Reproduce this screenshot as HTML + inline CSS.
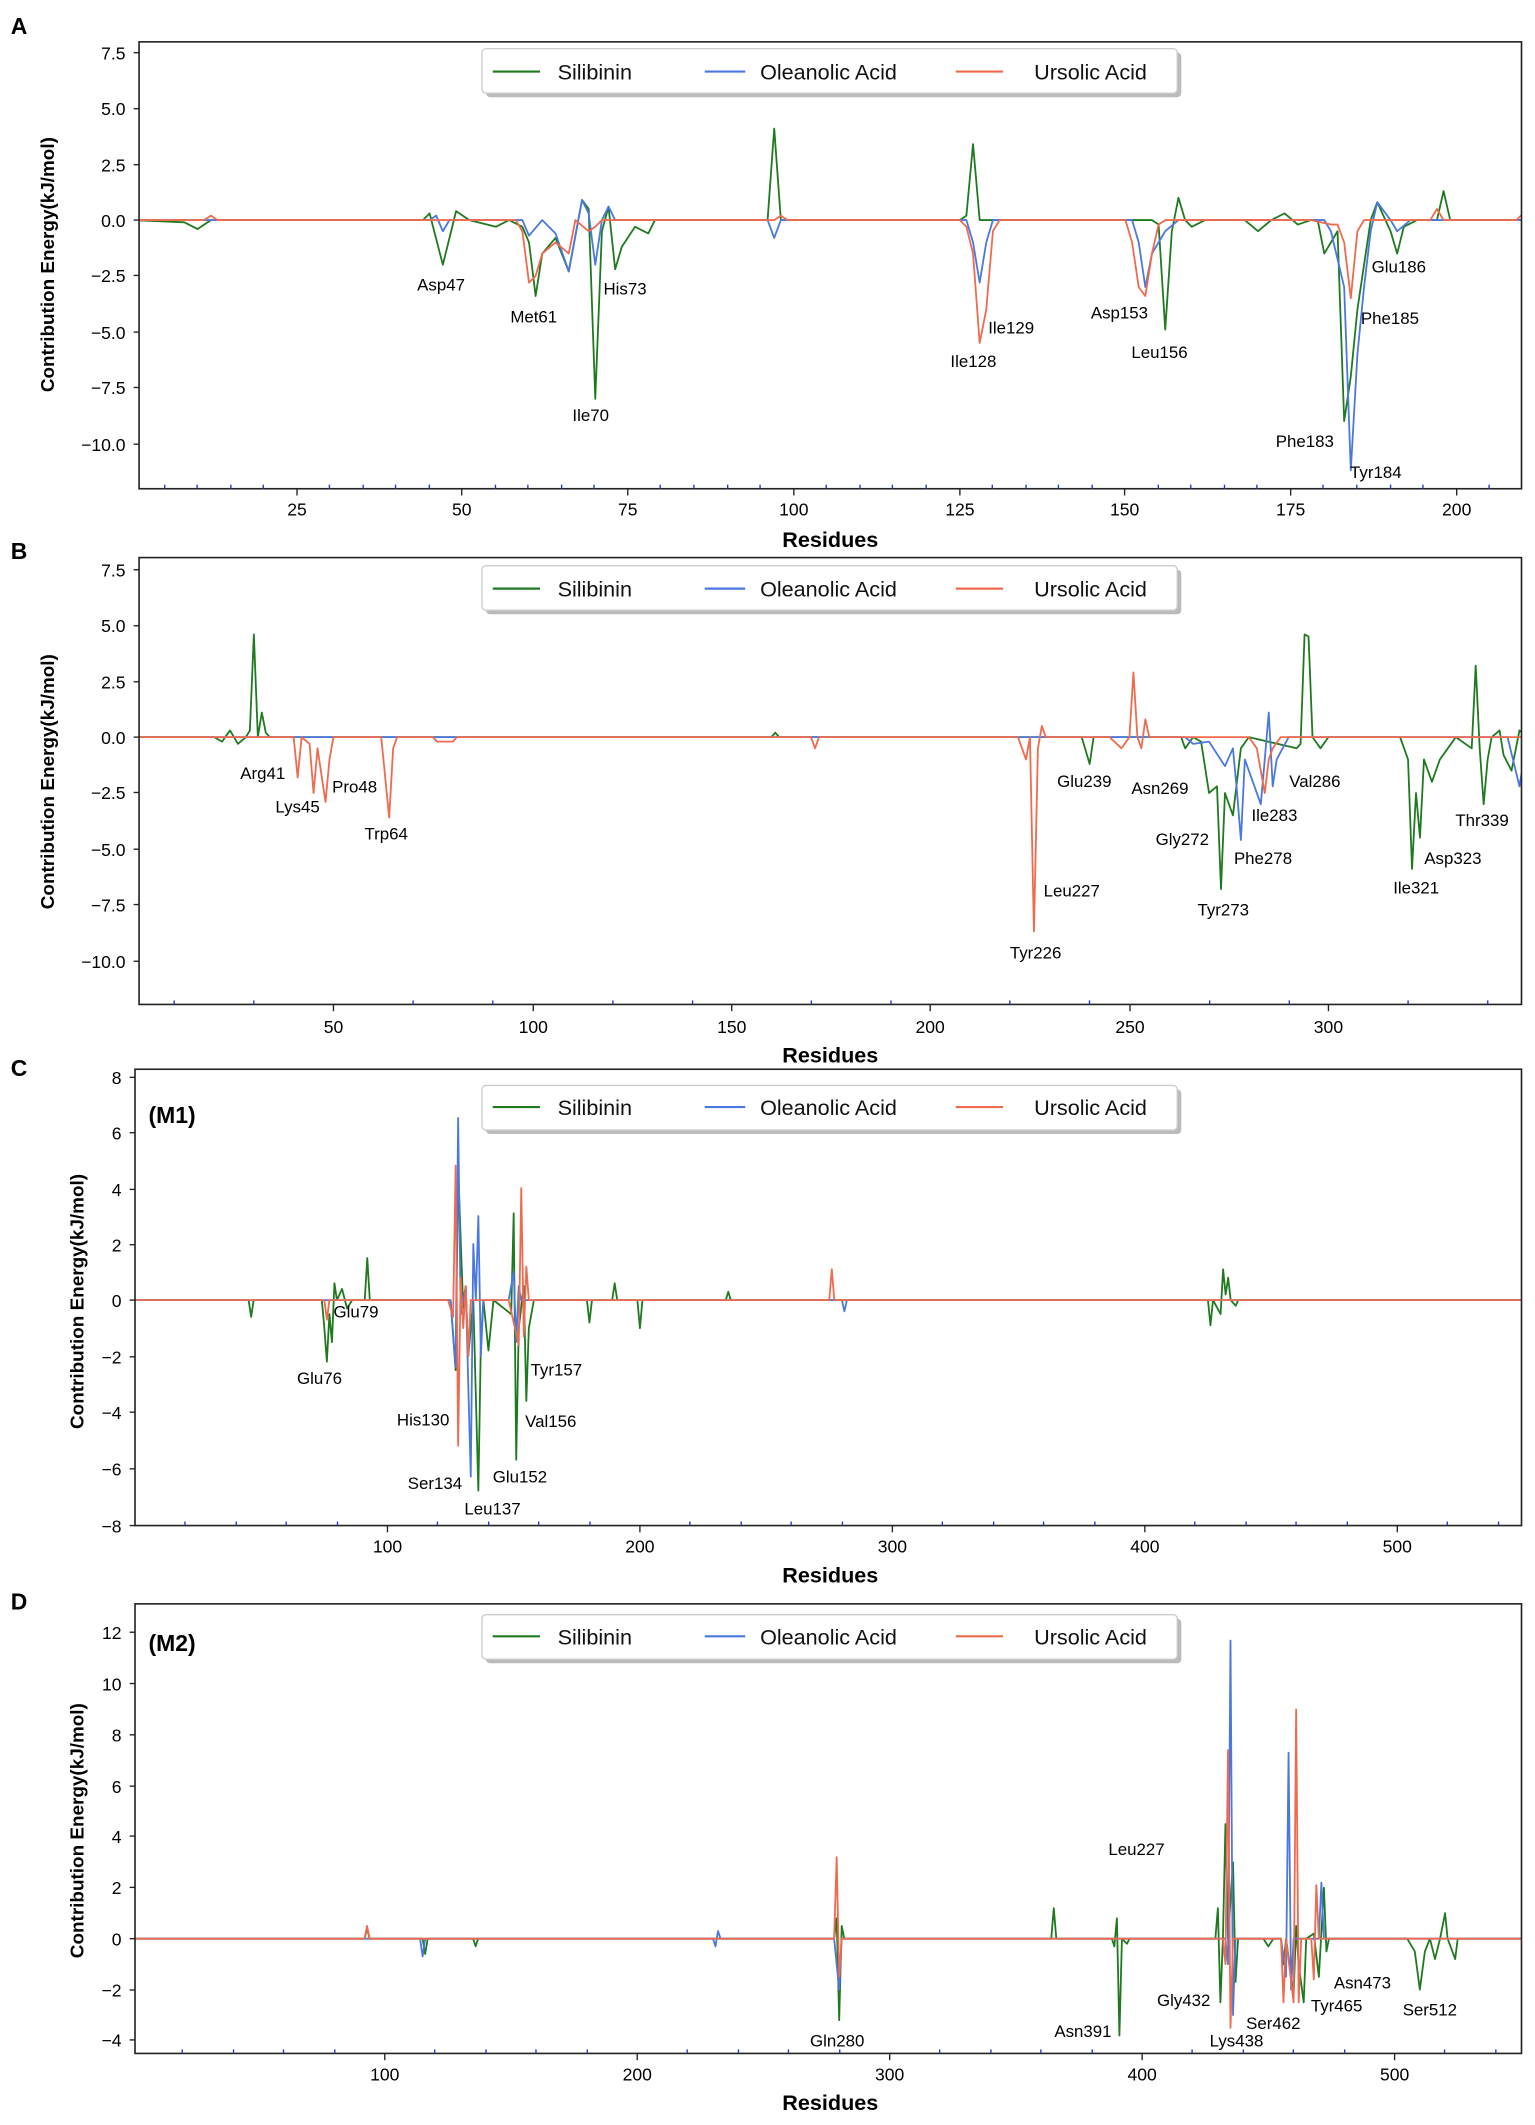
<!DOCTYPE html>
<html><head><meta charset="utf-8"><style>
body{margin:0;background:#fff}
svg{display:block}
text{font-family:"Liberation Sans",sans-serif}
.t{font-size:13px;fill:#000}
.lb{font-size:12.5px;fill:#000}
.ax{font-size:16px;font-weight:bold}
.yl{font-size:14px;font-weight:bold}
.pl{font-size:17px;font-weight:bold}
.lg{font-size:16px;fill:#111}
polyline{fill:none;vector-effect:non-scaling-stroke;stroke-width:1.8;stroke-linejoin:round}
.g{stroke:#1f7a1f}.b{stroke:#4a78e0}.r{stroke:#f06a4e}
.fr{fill:none;stroke:#222;stroke-width:1.2}
</style></head><body>
<svg width="1535" height="2125" viewBox="0 0 1137 1574" xmlns="http://www.w3.org/2000/svg">
<!-- PANEL A -->
<text x="8" y="25" class="pl">A</text>
<g class="t" text-anchor="end">
<text x="93" y="44">7.5</text><text x="93" y="85">5.0</text><text x="93" y="127">2.5</text><text x="93" y="168">0.0</text><text x="93" y="209">−2.5</text><text x="93" y="251">−5.0</text><text x="93" y="292">−7.5</text><text x="93" y="334">−10.0</text>
</g>
<g stroke="#222"><line x1="99" x2="103" y1="39" y2="39"/><line x1="99" x2="103" y1="80.5" y2="80.5"/><line x1="99" x2="103" y1="122" y2="122"/><line x1="99" x2="103" y1="163" y2="163"/><line x1="99" x2="103" y1="204" y2="204"/><line x1="99" x2="103" y1="246" y2="246"/><line x1="99" x2="103" y1="287" y2="287"/><line x1="99" x2="103" y1="329" y2="329"/></g>
<g class="t" text-anchor="middle"><text x="220" y="382">25</text><text x="342" y="382">50</text><text x="465" y="382">75</text><text x="588" y="382">100</text><text x="711" y="382">125</text><text x="833" y="382">150</text><text x="956" y="382">175</text><text x="1079" y="382">200</text></g>
<text x="615" y="405" class="ax" text-anchor="middle">Residues</text>
<text transform="translate(40,196) rotate(-90)" class="yl" text-anchor="middle">Contribution Energy(kJ/mol)</text>
<svg x="103" y="31" width="1024" height="331" overflow="hidden">
<g transform="translate(-5.7,132) scale(4.909,-16.55)">
<polyline class="g" points="0,0 8,-0.1 10,-0.4 12,0 44,0 45,0.3 47,-2 49,0.4 51,0 55,-0.3 57,0 59,-0.3 60,-1 61,-3.4 62,-1.5 64,-0.8 66,-2.3 68,0.9 69,0.5 70,-8 71,-0.5 72,0.6 73,-2.2 74,-1.2 76,-0.3 78,-0.6 79,0 96,0 97,4.1 98,0 125,0 126,0.2 127,3.4 128,0 154,0 155,-0.2 156,-4.9 157,-0.5 158,1 159,0 160,-0.3 162,0 168,0 170,-0.5 172,0 174,0.3 176,-0.2 178,0 179,0 180,-1.5 182,-0.5 183,-9 184,-7 185,-4 186,-2 187,0 188,0.8 190,-0.5 191,-1.5 192,-0.3 194,0 197,0 198,1.3 199,0 212,0"/>
<polyline class="b" points="0,0 45,0 46,0.2 47,-0.5 48,0 59,0 60,-0.7 62,0 64,-0.6 66,-2.3 68,0.9 69,0.3 70,-2 71,0 72,0.6 73,0 96,0 97,-0.8 98,0 126,0 127,-1 128,-2.8 129,-1 130,0 151,0 152,-1 153,-3 154,-1.5 156,-0.5 158,0 180,0 181,-0.5 183,-3 184,-11.2 185,-6 186,-3 187,-0.5 188,0.8 190,0 191,-0.5 193,0 212,0"/>
<polyline class="r" points="0,0 11,0 12,0.2 13,0 58,0 59,-0.5 60,-2.8 61,-2.5 62,-1.5 64,-1 66,-1.5 67,0 69,-0.5 70,-0.3 71,0 97,0 98,0.2 99,0 125,0 126,-0.3 127,-1.5 128,-5.5 129,-4 130,-0.5 131,0 150,0 151,-1 152,-3 153,-3.4 154,-1.5 155,-0.2 156,0 178,0 181,-0.2 182,-0.2 183,-1 184,-3.5 185,-0.5 186,0 196,0 197,0.5 198,0 209,0 210,0.3"/>
</g></svg>
<rect x="103" y="31" width="1024" height="331" class="fr"/>
<g stroke="#2233cc" stroke-width="1">
<line x1="122" x2="122" y1="359" y2="362"/><line x1="146" x2="146" y1="359" y2="362"/><line x1="171" x2="171" y1="359" y2="362"/><line x1="195" x2="195" y1="359" y2="362"/><line x1="244" x2="244" y1="359" y2="362"/><line x1="269" x2="269" y1="359" y2="362"/><line x1="293" x2="293" y1="359" y2="362"/><line x1="318" x2="318" y1="359" y2="362"/><line x1="367" x2="367" y1="359" y2="362"/><line x1="391" x2="391" y1="359" y2="362"/><line x1="416" x2="416" y1="359" y2="362"/><line x1="440" x2="440" y1="359" y2="362"/><line x1="489" x2="489" y1="359" y2="362"/><line x1="514" x2="514" y1="359" y2="362"/><line x1="539" x2="539" y1="359" y2="362"/><line x1="563" x2="563" y1="359" y2="362"/><line x1="612" x2="612" y1="359" y2="362"/><line x1="637" x2="637" y1="359" y2="362"/><line x1="661" x2="661" y1="359" y2="362"/><line x1="686" x2="686" y1="359" y2="362"/><line x1="735" x2="735" y1="359" y2="362"/><line x1="760" x2="760" y1="359" y2="362"/><line x1="784" x2="784" y1="359" y2="362"/><line x1="809" x2="809" y1="359" y2="362"/><line x1="858" x2="858" y1="359" y2="362"/><line x1="882" x2="882" y1="359" y2="362"/><line x1="907" x2="907" y1="359" y2="362"/><line x1="931" x2="931" y1="359" y2="362"/><line x1="980" x2="980" y1="359" y2="362"/><line x1="1005" x2="1005" y1="359" y2="362"/><line x1="1030" x2="1030" y1="359" y2="362"/><line x1="1054" x2="1054" y1="359" y2="362"/><line x1="1103" x2="1103" y1="359" y2="362"/>
</g>
<g stroke="#222"><line x1="220" x2="220" y1="362" y2="367"/><line x1="342" x2="342" y1="362" y2="367"/><line x1="465" x2="465" y1="362" y2="367"/><line x1="588" x2="588" y1="362" y2="367"/><line x1="711" x2="711" y1="362" y2="367"/><line x1="833" x2="833" y1="362" y2="367"/><line x1="956" x2="956" y1="362" y2="367"/><line x1="1079" x2="1079" y1="362" y2="367"/></g>
<g class="lb">
<text x="309" y="215">Asp47</text><text x="378" y="239">Met61</text><text x="424" y="312">Ile70</text><text x="447" y="218">His73</text><text x="732" y="247">Ile129</text><text x="704" y="272">Ile128</text><text x="808" y="236">Asp153</text><text x="838" y="265">Leu156</text><text x="945" y="331">Phe183</text><text x="1000" y="354">Tyr184</text><text x="1008" y="240">Phe185</text><text x="1016" y="202">Glu186</text>
</g>
<rect x="360" y="39" width="515" height="33" rx="3" fill="#bbb"/>
<rect x="357" y="36" width="515" height="33" rx="3" fill="#fff" stroke="#ccc"/>
<line x1="365" x2="400" y1="53" y2="53" class="g" stroke-width="1.6"/><text x="413" y="59" class="lg">Silibinin</text>
<line x1="522" x2="552" y1="53" y2="53" class="b" stroke-width="1.6"/><text x="563" y="59" class="lg">Oleanolic Acid</text>
<line x1="708" x2="743" y1="53" y2="53" class="r" stroke-width="1.6"/><text x="766" y="59" class="lg">Ursolic Acid</text>

<!-- PANEL B -->
<text x="8" y="414" class="pl">B</text>
<g class="t" text-anchor="end">
<text x="93" y="427">7.5</text><text x="93" y="468">5.0</text><text x="93" y="510">2.5</text><text x="93" y="551">0.0</text><text x="93" y="592">−2.5</text><text x="93" y="634">−5.0</text><text x="93" y="675">−7.5</text><text x="93" y="717">−10.0</text>
</g>
<g stroke="#222"><line x1="99" x2="103" y1="422" y2="422"/><line x1="99" x2="103" y1="463.5" y2="463.5"/><line x1="99" x2="103" y1="505" y2="505"/><line x1="99" x2="103" y1="546" y2="546"/><line x1="99" x2="103" y1="587" y2="587"/><line x1="99" x2="103" y1="629" y2="629"/><line x1="99" x2="103" y1="670" y2="670"/><line x1="99" x2="103" y1="712" y2="712"/></g>
<g class="t" text-anchor="middle"><text x="247" y="765">50</text><text x="395" y="765">100</text><text x="542" y="765">150</text><text x="689" y="765">200</text><text x="837" y="765">250</text><text x="984" y="765">300</text></g>
<text x="615" y="787" class="ax" text-anchor="middle">Residues</text>
<text transform="translate(40,579) rotate(-90)" class="yl" text-anchor="middle">Contribution Energy(kJ/mol)</text>
<svg x="103" y="413" width="1024" height="331" overflow="hidden">
<g transform="translate(-3.4,133) scale(2.948,-16.55)">
<polyline class="g" points="0,0 20,0 22,-0.2 24,0.3 26,-0.3 28,0 29,0.3 30,4.6 31,0 32,1.1 33,0.2 34,0 160,0 161,0.2 162,0 238,0 240,-1.2 241,0 263,0 264,-0.5 266,0 268,-0.2 270,-2.5 272,-2.2 273,-6.8 274,-2.5 276,-3.5 278,-0.5 280,0 292,-0.5 293,-0.3 294,4.6 295,4.5 296,0 298,-0.5 300,0 318,0 320,-1 321,-5.9 322,-2.5 323,-4.5 324,-1 326,-2 328,-1 330,-0.5 332,0 336,-0.5 337,3.2 338,-0.5 339,-3 340,-1 341,0 343,0.3 344,-0.8 346,-1.5 348,0.3 350,0"/>
<polyline class="b" points="0,0 264,0 266,-0.3 270,-0.2 274,-1.3 276,-0.5 277,-2.4 278,-4.6 279,-1 281,-2 283,-3 284,-1 285,1.1 286,-2.2 287,-1 290,0 345,0 348,-2.2 350,0"/>
<polyline class="r" points="0,0 40,0 41,-1.8 42,0 44,-0.3 45,-2.5 46,-0.5 48,-2.9 49,-1 50,0 62,0 64,-3.6 65,-0.5 66,0 75,0 76,-0.2 80,-0.2 81,0 170,0 171,-0.5 172,0 222,0 224,-1 225,0 226,-8.7 227,-0.5 228,0.5 229,0 245,0 248,-0.5 250,0 251,2.9 252,0 253,-0.5 254,0.8 255,0 280,0 282,-0.5 284,-2.5 285,-1 286,-0.5 288,0 350,0"/>
</g></svg>
<rect x="103" y="413" width="1024" height="331" class="fr"/>
<g stroke="#222"><line x1="247" x2="247" y1="744" y2="749"/><line x1="395" x2="395" y1="744" y2="749"/><line x1="542" x2="542" y1="744" y2="749"/><line x1="689" x2="689" y1="744" y2="749"/><line x1="837" x2="837" y1="744" y2="749"/><line x1="984" x2="984" y1="744" y2="749"/></g>
<g stroke="#2233cc"><line x1="129" x2="129" y1="741" y2="744"/><line x1="188" x2="188" y1="741" y2="744"/><line x1="306" x2="306" y1="741" y2="744"/><line x1="365" x2="365" y1="741" y2="744"/><line x1="454" x2="454" y1="741" y2="744"/><line x1="513" x2="513" y1="741" y2="744"/><line x1="601" x2="601" y1="741" y2="744"/><line x1="660" x2="660" y1="741" y2="744"/><line x1="748" x2="748" y1="741" y2="744"/><line x1="807" x2="807" y1="741" y2="744"/><line x1="896" x2="896" y1="741" y2="744"/><line x1="955" x2="955" y1="741" y2="744"/><line x1="1043" x2="1043" y1="741" y2="744"/><line x1="1102" x2="1102" y1="741" y2="744"/></g>
<g class="lb">
<text x="178" y="577">Arg41</text><text x="204" y="602">Lys45</text><text x="246" y="587">Pro48</text><text x="270" y="622">Trp64</text><text x="783" y="583">Glu239</text><text x="838" y="588">Asn269</text><text x="856" y="626">Gly272</text><text x="887" y="678">Tyr273</text><text x="914" y="640">Phe278</text><text x="927" y="608">Ile283</text><text x="955" y="583">Val286</text><text x="773" y="664">Leu227</text><text x="748" y="710">Tyr226</text><text x="1032" y="662">Ile321</text><text x="1055" y="640">Asp323</text><text x="1078" y="612">Thr339</text>
</g>
<rect x="360" y="422" width="515" height="33" rx="3" fill="#bbb"/>
<rect x="357" y="419" width="515" height="33" rx="3" fill="#fff" stroke="#ccc"/>
<line x1="365" x2="400" y1="436" y2="436" class="g" stroke-width="1.6"/><text x="413" y="442" class="lg">Silibinin</text>
<line x1="522" x2="552" y1="436" y2="436" class="b" stroke-width="1.6"/><text x="563" y="442" class="lg">Oleanolic Acid</text>
<line x1="708" x2="743" y1="436" y2="436" class="r" stroke-width="1.6"/><text x="766" y="442" class="lg">Ursolic Acid</text>

<!-- PANEL C -->
<text x="8" y="797" class="pl">C</text>
<g class="t" text-anchor="end">
<text x="90" y="803">8</text><text x="90" y="844">6</text><text x="90" y="886">4</text><text x="90" y="927">2</text><text x="90" y="968">0</text><text x="90" y="1010">−2</text><text x="90" y="1051">−4</text><text x="90" y="1093">−6</text><text x="90" y="1135">−8</text>
</g>
<g stroke="#222"><line x1="96" x2="100" y1="798" y2="798"/><line x1="96" x2="100" y1="839" y2="839"/><line x1="96" x2="100" y1="881" y2="881"/><line x1="96" x2="100" y1="922" y2="922"/><line x1="96" x2="100" y1="963" y2="963"/><line x1="96" x2="100" y1="1005" y2="1005"/><line x1="96" x2="100" y1="1046" y2="1046"/><line x1="96" x2="100" y1="1088" y2="1088"/><line x1="96" x2="100" y1="1130" y2="1130"/></g>
<g class="t" text-anchor="middle"><text x="287" y="1150">100</text><text x="474" y="1150">200</text><text x="661" y="1150">300</text><text x="848" y="1150">400</text><text x="1035" y="1150">500</text></g>
<text x="615" y="1172" class="ax" text-anchor="middle">Residues</text>
<text transform="translate(62,964) rotate(-90)" class="yl" text-anchor="middle">Contribution Energy(kJ/mol)</text>
<svg x="100" y="792" width="1027" height="338" overflow="hidden">
<g transform="translate(0,171) scale(1.87,-20.75)">
<polyline class="g" points="0,0 45,0 46,-0.6 47,0 74,0 75,-1 76,-2.2 77,-0.5 78,-1.5 79,0.6 80,0 82,0.4 84,-0.3 86,0 91,0 92,1.5 93,0 125,0 127,-2.5 128,4.7 130,-0.3 131,0.5 132,-2 134,0 136,-6.8 137,-1.5 138,0 140,-1.8 142,0 149,-0.5 150,3.1 151,-5.7 152,-1 154,0.5 155,-3.6 156,-1 158,0 179,0 180,-0.8 181,0 189,0 190,0.6 191,0 199,0 200,-1 201,0 234,0 235,0.3 236,0 425,0 426,-0.9 427,0 430,-0.5 431,1.1 432,0.2 433,0.8 434,0 436,-0.2 437,0 560,0"/>
<polyline class="b" points="0,0 125,0 127,-2.4 128,6.5 129,-0.5 131,0.5 132,-3 133,-6.3 134,2 135,0 136,3 137,-2 138,0 148,0 150,1 151,-1.5 152,0.5 153,0 280,0 281,-0.4 282,0 560,0"/>
<polyline class="r" points="0,0 75,0 76,-0.7 77,0 124,0 126,-0.6 127,4.8 128,-5.2 129,0.8 130,-1 131,0.5 132,-2 133,0 148,0 150,-0.8 152,-1.6 153,4 154,-1.3 155,1.2 156,0 275,0 276,1.1 277,0 560,0"/>
</g></svg>
<rect x="100" y="792" width="1027" height="338" class="fr"/>
<g stroke="#222"><line x1="287" x2="287" y1="1130" y2="1135"/><line x1="474" x2="474" y1="1130" y2="1135"/><line x1="661" x2="661" y1="1130" y2="1135"/><line x1="848" x2="848" y1="1130" y2="1135"/><line x1="1035" x2="1035" y1="1130" y2="1135"/></g>
<g stroke="#2233cc"><line x1="137" x2="137" y1="1127" y2="1130"/><line x1="175" x2="175" y1="1127" y2="1130"/><line x1="212" x2="212" y1="1127" y2="1130"/><line x1="250" x2="250" y1="1127" y2="1130"/><line x1="324" x2="324" y1="1127" y2="1130"/><line x1="362" x2="362" y1="1127" y2="1130"/><line x1="399" x2="399" y1="1127" y2="1130"/><line x1="437" x2="437" y1="1127" y2="1130"/><line x1="511" x2="511" y1="1127" y2="1130"/><line x1="549" x2="549" y1="1127" y2="1130"/><line x1="586" x2="586" y1="1127" y2="1130"/><line x1="624" x2="624" y1="1127" y2="1130"/><line x1="698" x2="698" y1="1127" y2="1130"/><line x1="736" x2="736" y1="1127" y2="1130"/><line x1="773" x2="773" y1="1127" y2="1130"/><line x1="811" x2="811" y1="1127" y2="1130"/><line x1="885" x2="885" y1="1127" y2="1130"/><line x1="923" x2="923" y1="1127" y2="1130"/><line x1="960" x2="960" y1="1127" y2="1130"/><line x1="998" x2="998" y1="1127" y2="1130"/><line x1="1072" x2="1072" y1="1127" y2="1130"/><line x1="1110" x2="1110" y1="1127" y2="1130"/></g>
<text x="110" y="832" class="pl">(M1)</text>
<g class="lb">
<text x="247" y="976">Glu79</text><text x="220" y="1025">Glu76</text><text x="294" y="1056">His130</text><text x="393" y="1019">Tyr157</text><text x="389" y="1057">Val156</text><text x="302" y="1103">Ser134</text><text x="365" y="1098">Glu152</text><text x="344" y="1122">Leu137</text>
</g>
<rect x="360" y="807" width="515" height="33" rx="3" fill="#bbb"/>
<rect x="357" y="804" width="515" height="33" rx="3" fill="#fff" stroke="#ccc"/>
<line x1="365" x2="400" y1="820" y2="820" class="g" stroke-width="1.6"/><text x="413" y="826" class="lg">Silibinin</text>
<line x1="522" x2="552" y1="820" y2="820" class="b" stroke-width="1.6"/><text x="563" y="826" class="lg">Oleanolic Acid</text>
<line x1="708" x2="743" y1="820" y2="820" class="r" stroke-width="1.6"/><text x="766" y="826" class="lg">Ursolic Acid</text>

<!-- PANEL D -->
<text x="8" y="1192" class="pl">D</text>
<g class="t" text-anchor="end">
<text x="90" y="1214">12</text><text x="90" y="1252">10</text><text x="90" y="1290">8</text><text x="90" y="1328">6</text><text x="90" y="1365">4</text><text x="90" y="1403">2</text><text x="90" y="1441">0</text><text x="90" y="1479">−2</text><text x="90" y="1516">−4</text>
</g>
<g stroke="#222"><line x1="96" x2="100" y1="1209" y2="1209"/><line x1="96" x2="100" y1="1247" y2="1247"/><line x1="96" x2="100" y1="1285" y2="1285"/><line x1="96" x2="100" y1="1323" y2="1323"/><line x1="96" x2="100" y1="1360" y2="1360"/><line x1="96" x2="100" y1="1398" y2="1398"/><line x1="96" x2="100" y1="1436" y2="1436"/><line x1="96" x2="100" y1="1474" y2="1474"/><line x1="96" x2="100" y1="1511" y2="1511"/></g>
<g class="t" text-anchor="middle"><text x="285" y="1541">100</text><text x="472" y="1541">200</text><text x="659" y="1541">300</text><text x="846" y="1541">400</text><text x="1033" y="1541">500</text></g>
<text x="615" y="1563" class="ax" text-anchor="middle">Residues</text>
<text transform="translate(62,1356) rotate(-90)" class="yl" text-anchor="middle">Contribution Energy(kJ/mol)</text>
<svg x="100" y="1188" width="1027" height="333" overflow="hidden">
<g transform="translate(-2,248) scale(1.87,-18.875)">
<polyline class="g" points="0,0 92,0 93,0.4 94,0 115,0 116,-0.6 117,0 135,0 136,-0.3 137,0 278,0 279,0.8 280,-3.2 281,0.5 282,0 364,0 365,1.2 366,0 388,0 389,-0.3 390,0.8 391,-3.8 392,0 394,-0.2 395,0 429,0 430,1.2 431,-2.5 432,0 433,4.5 434,0 436,3 437,-1.7 438,0 448,0 450,-0.3 452,0 455,0 456,-1 457,0 460,-2.2 461,0.5 462,-1 464,-2.5 465,0 468,0.2 470,-1.5 472,2 473,-0.5 474,0 505,0 508,-0.5 510,-2 512,-0.5 514,0 516,-0.8 518,0 520,1 521,0 524,-0.8 525,0 560,0"/>
<polyline class="b" points="0,0 114,0 115,-0.7 116,0 230,0 231,-0.3 232,0.3 233,0 278,0 280,-2 281,0 433,0 434,-1 435,11.7 436,-3 437,0 455,0 457,-1.5 458,7.3 459,-2 460,0 470,0 471,2.2 472,0 560,0"/>
<polyline class="r" points="0,0 92,0 93,0.5 94,0 278,0 279,3.2 280,-1.5 281,0 432,0 433,-1 434,7.4 435,-3.5 436,0 455,0 456,-2.5 457,0 460,-2.5 461,9 462,-2.5 463,0 467,0 468,-1.6 469,2.1 470,0 560,0"/>
</g></svg>
<rect x="100" y="1188" width="1027" height="333" class="fr"/>
<g stroke="#222"><line x1="285" x2="285" y1="1521" y2="1526"/><line x1="472" x2="472" y1="1521" y2="1526"/><line x1="659" x2="659" y1="1521" y2="1526"/><line x1="846" x2="846" y1="1521" y2="1526"/><line x1="1033" x2="1033" y1="1521" y2="1526"/></g>
<g stroke="#2233cc"><line x1="135" x2="135" y1="1518" y2="1521"/><line x1="173" x2="173" y1="1518" y2="1521"/><line x1="210" x2="210" y1="1518" y2="1521"/><line x1="248" x2="248" y1="1518" y2="1521"/><line x1="322" x2="322" y1="1518" y2="1521"/><line x1="360" x2="360" y1="1518" y2="1521"/><line x1="397" x2="397" y1="1518" y2="1521"/><line x1="435" x2="435" y1="1518" y2="1521"/><line x1="509" x2="509" y1="1518" y2="1521"/><line x1="547" x2="547" y1="1518" y2="1521"/><line x1="584" x2="584" y1="1518" y2="1521"/><line x1="622" x2="622" y1="1518" y2="1521"/><line x1="696" x2="696" y1="1518" y2="1521"/><line x1="734" x2="734" y1="1518" y2="1521"/><line x1="771" x2="771" y1="1518" y2="1521"/><line x1="809" x2="809" y1="1518" y2="1521"/><line x1="883" x2="883" y1="1518" y2="1521"/><line x1="921" x2="921" y1="1518" y2="1521"/><line x1="958" x2="958" y1="1518" y2="1521"/><line x1="996" x2="996" y1="1518" y2="1521"/><line x1="1070" x2="1070" y1="1518" y2="1521"/><line x1="1108" x2="1108" y1="1518" y2="1521"/></g>
<text x="110" y="1223" class="pl">(M2)</text>
<g class="lb">
<text x="821" y="1374">Leu227</text><text x="600" y="1516">Gln280</text><text x="781" y="1509">Asn391</text><text x="857" y="1486">Gly432</text><text x="896" y="1516">Lys438</text><text x="923" y="1503">Ser462</text><text x="971" y="1490">Tyr465</text><text x="988" y="1473">Asn473</text><text x="1039" y="1493">Ser512</text>
</g>
<rect x="360" y="1199" width="515" height="33" rx="3" fill="#bbb"/>
<rect x="357" y="1196" width="515" height="33" rx="3" fill="#fff" stroke="#ccc"/>
<line x1="365" x2="400" y1="1212" y2="1212" class="g" stroke-width="1.6"/><text x="413" y="1218" class="lg">Silibinin</text>
<line x1="522" x2="552" y1="1212" y2="1212" class="b" stroke-width="1.6"/><text x="563" y="1218" class="lg">Oleanolic Acid</text>
<line x1="708" x2="743" y1="1212" y2="1212" class="r" stroke-width="1.6"/><text x="766" y="1218" class="lg">Ursolic Acid</text>
</svg>
</body></html>
